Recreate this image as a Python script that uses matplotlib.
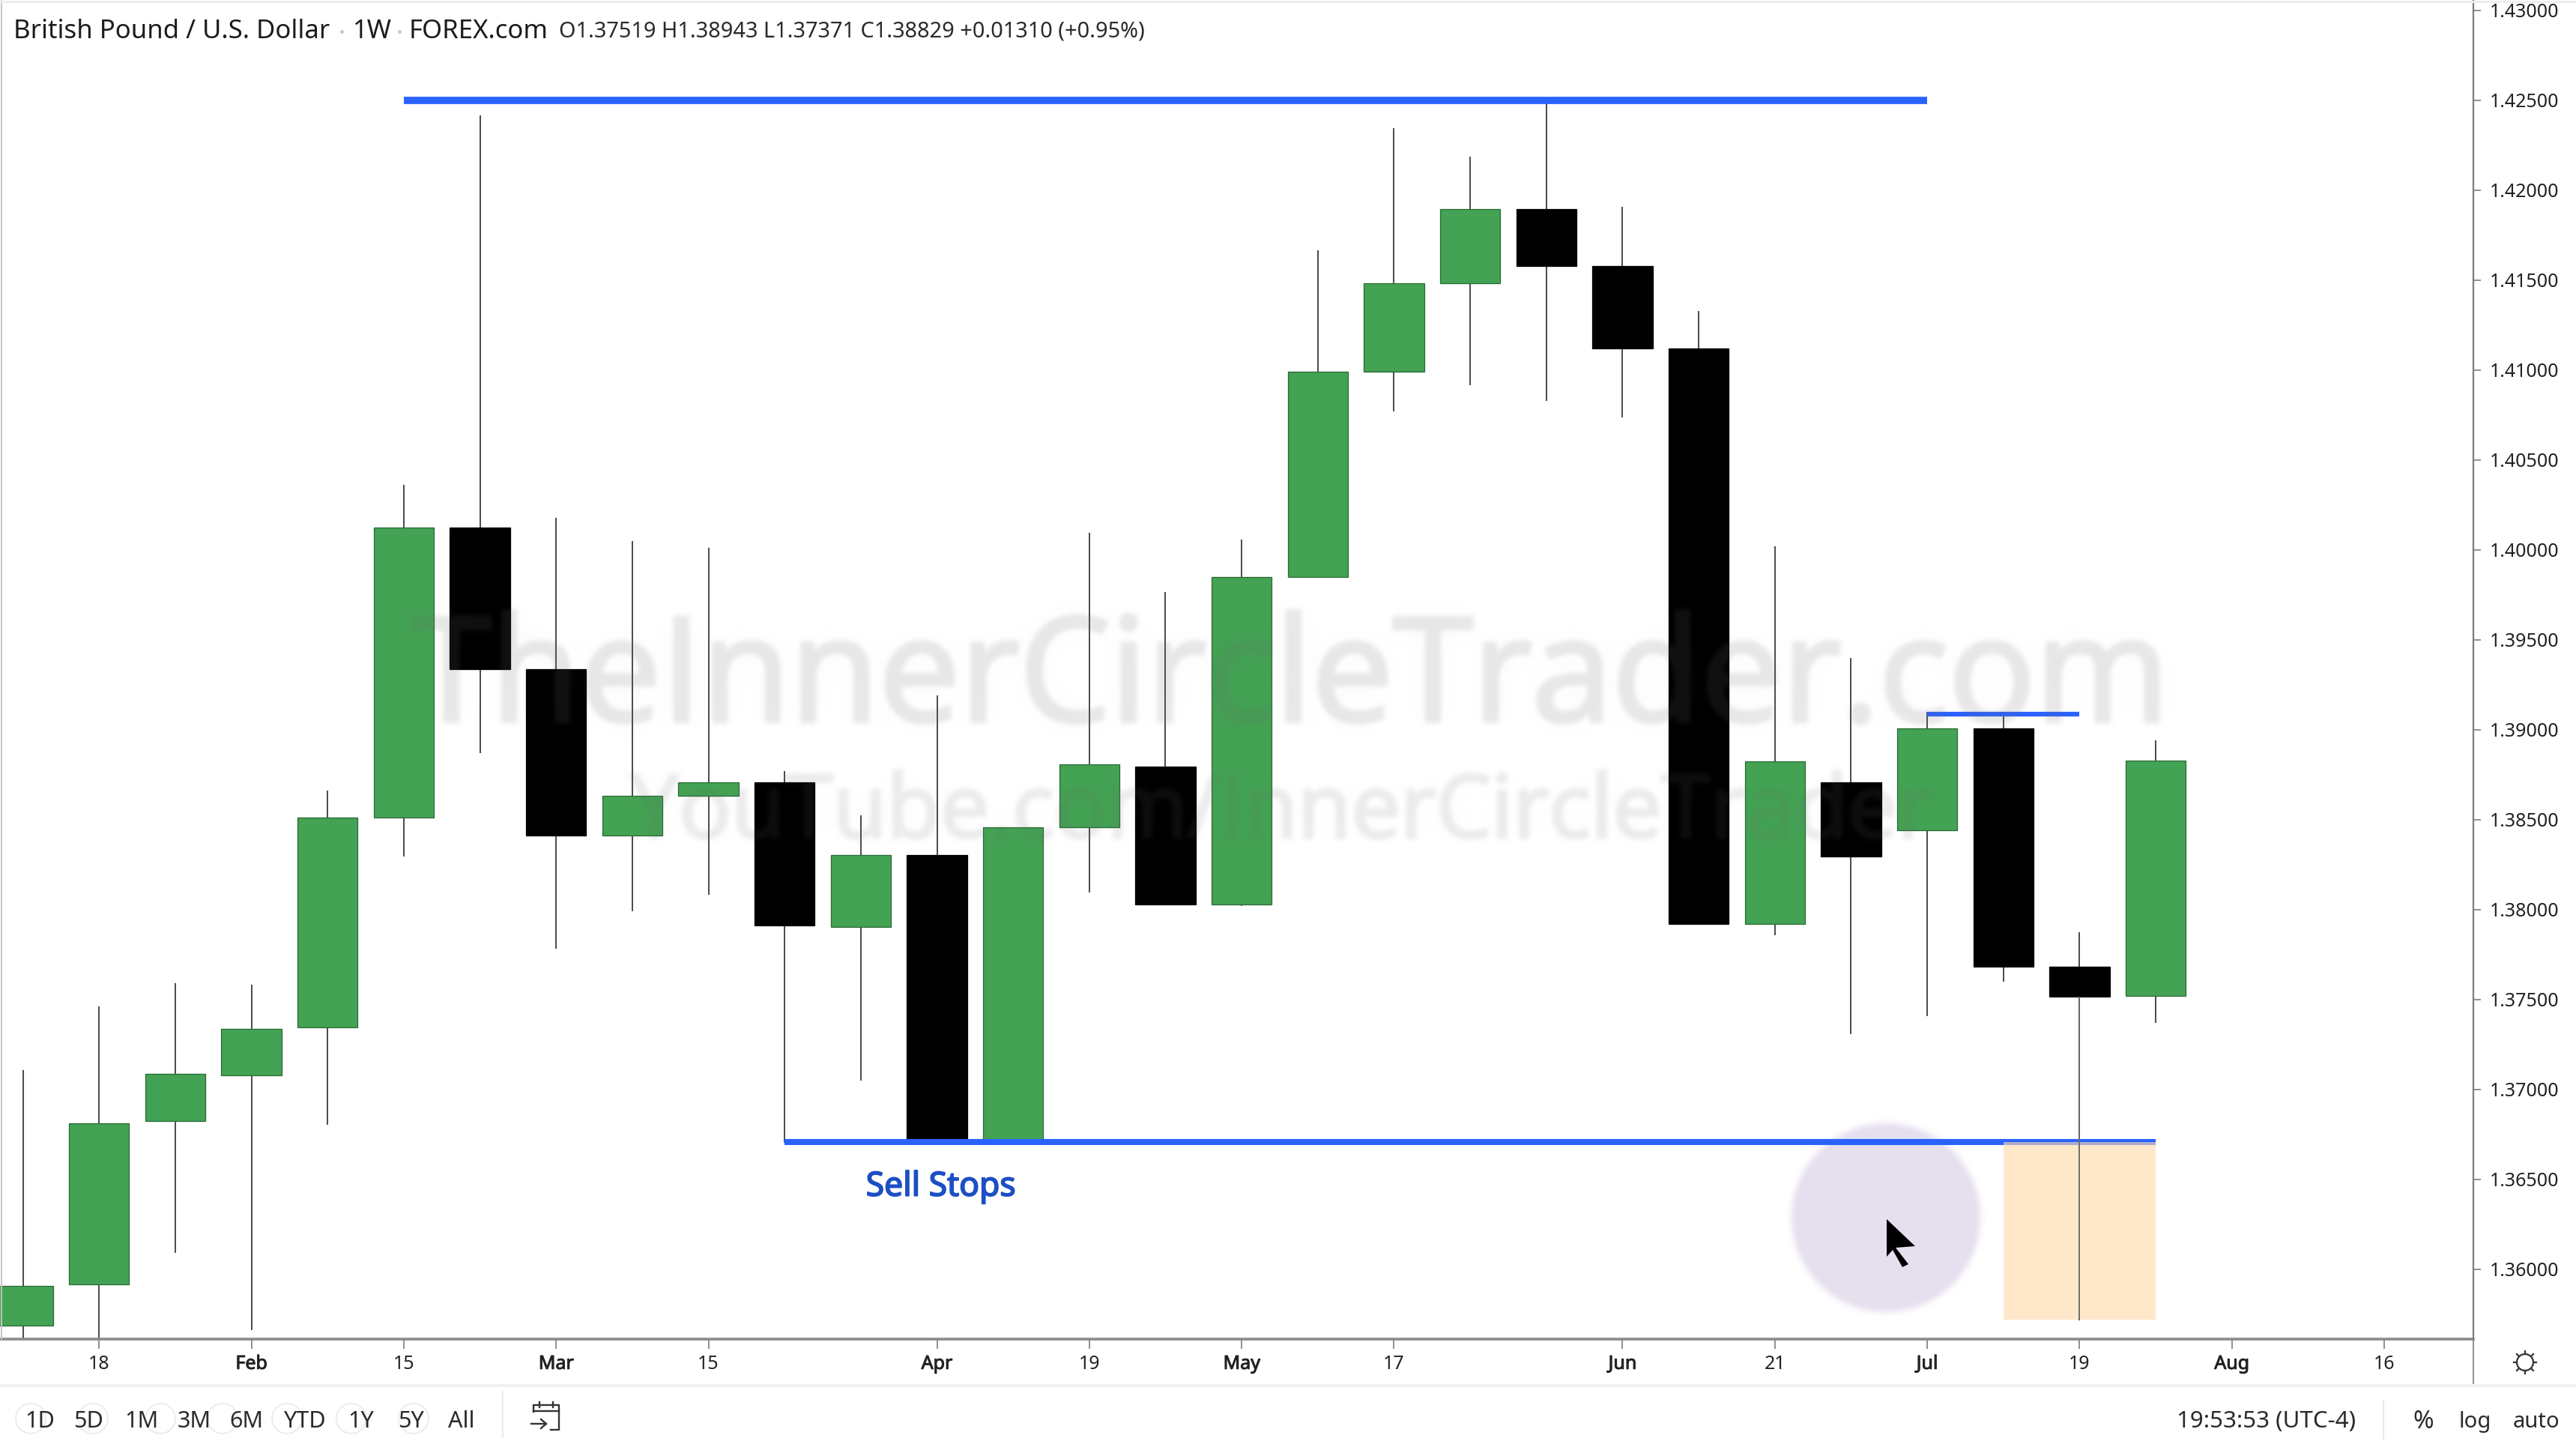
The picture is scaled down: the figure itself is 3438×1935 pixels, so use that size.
import matplotlib
matplotlib.use('Agg')
import matplotlib.pyplot as plt
from matplotlib.colors import to_rgb
from matplotlib.patches import Ellipse, Polygon, Rectangle
import matplotlib.patheffects as pe
import numpy as np

plt.rcParams['font.family'] = ['Noto Sans', 'DejaVu Sans']

# weekly candles
opens = [1.35689, 1.35918, 1.36823, 1.37079, 1.37344, 1.38514, 1.40123, 1.39337, 1.38413, 1.38633,
         1.38706, 1.37902, 1.38304, 1.36704, 1.38459, 1.38797, 1.38030, 1.39849, 1.40992, 1.41485,
         1.41897, 1.41577, 1.41120, 1.37920, 1.38706, 1.38441, 1.39008, 1.37682, 1.37519]
highs = [1.37106, 1.37463, 1.37591, 1.37582, 1.38660, 1.40361, 1.42418, 1.40178, 1.40050, 1.40013,
         1.38770, 1.38523, 1.39191, 1.38459, 1.40096, 1.39767, 1.40059, 1.41668, 1.42345, 1.42189,
         1.42500, 1.41906, 1.41330, 1.40022, 1.39401, 1.39099, 1.39081, 1.37874, 1.38943]
lows = [1.35500, 1.35500, 1.36091, 1.35662, 1.36805, 1.38295, 1.38871, 1.37783, 1.37993, 1.38084,
        1.36704, 1.37051, 1.36704, 1.36704, 1.38094, 1.38030, 1.38020, 1.39849, 1.40772, 1.40918,
        1.40827, 1.40736, 1.37920, 1.37856, 1.37307, 1.37408, 1.37600, 1.35717, 1.37371]
closes = [1.35909, 1.36814, 1.37088, 1.37335, 1.38514, 1.40123, 1.39337, 1.38413, 1.38633, 1.38706,
          1.37911, 1.38304, 1.36704, 1.38459, 1.38807, 1.38030, 1.39849, 1.40992, 1.41485, 1.41897,
          1.41577, 1.41120, 1.37920, 1.38825, 1.38295, 1.39008, 1.37682, 1.37518, 1.38829]

price_ticks = [1.36, 1.365, 1.37, 1.375, 1.38, 1.385, 1.39, 1.395, 1.40, 1.405, 1.41, 1.415, 1.42, 1.425, 1.43]
date_ticks = [1, 3, 5, 7, 9, 12, 14, 16, 18, 21, 23, 25, 27, 29, 31]
date_labels = ['18', 'Feb', '15', 'Mar', '15', 'Apr', '19', 'May', '17', 'Jun', '21', 'Jul', '19', 'Aug', '16']
months = ['Feb', 'Mar', 'Apr', 'May', 'Jun', 'Jul', 'Aug']
ranges = ['1D', '5D', '1M', '3M', '6M', 'YTD', '1Y', '5Y', 'All']

W, H = 3438, 1935
AX_RIGHT, AX_BOTTOM = 3301, 1787


def box_blur(a, r):
    # running mean along both image axes
    for axis in (0, 1):
        c = np.cumsum(a, axis=axis)
        c = np.insert(c, 0, 0, axis=axis)
        n = a.shape[axis]
        hi = np.clip(np.arange(n) + r + 1, 0, n)
        lo = np.clip(np.arange(n) - r, 0, n)
        a = (np.take(c, hi, axis=axis) - np.take(c, lo, axis=axis)) / (2 * r + 1)
    return a


def soft(color, radius, opacity, halo=0.0):
    # agg_filter: blur the rendered artist and fade it
    rgb = to_rgb(color)

    def f(img, dpi):
        pad = 40
        alpha = np.zeros((img.shape[0] + 2 * pad, img.shape[1] + 2 * pad))
        alpha[pad:-pad, pad:-pad] = img[:, :, 3]
        sharp = box_blur(box_blur(alpha, radius), radius)
        if halo:
            sharp = sharp * (1 - halo) + box_blur(alpha, 30) * halo
        res = np.zeros(alpha.shape + (4,))
        res[:, :, :3] = rgb
        res[:, :, 3] = sharp * opacity
        return res, -pad, -pad
    return f


fig = plt.figure(figsize=(W / 100, H / 100), dpi=100, facecolor='white')
ax = fig.add_axes([0, 1 - AX_BOTTOM / H, AX_RIGHT / W, AX_BOTTOM / H])
ax.set_xlim(-0.301, 32.17)
ax.set_ylim(1.35612, 1.43058)

# everything outside the data is placed in pixels
px = fig.add_axes([0, 0, 1, 1], zorder=10)
px.set_xlim(0, W)
px.set_ylim(H, 0)
px.axis('off')

green, black = '#43a253', '#000000'
for i in range(len(opens)):
    up = closes[i] >= opens[i]
    ax.vlines(i, lows[i], highs[i], color='#3c3c3c', lw=1.3, zorder=2)
    ax.bar(i, abs(closes[i] - opens[i]), bottom=min(opens[i], closes[i]), width=0.79,
           color=green if up else black, edgecolor='#2a6a37' if up else black, lw=0.9, zorder=3)

# cursor highlight, sits under the blue level
glow = Ellipse((2517, 1625), 252, 252, color='#e6dfee', lw=0, transform=px.transData, zorder=3.5)
glow.set_agg_filter(soft('#e6dfee', 4, 1.0))
ax.add_patch(glow)

# levels drawn on the chart
blue = '#2962ff'
ax.hlines(1.425, 5, 25, color=blue, lw=7, zorder=4)
ax.hlines(1.39085, 25, 27, color=blue, lw=4.5, zorder=4)
ax.hlines(1.36708, 10, 28, color=blue, lw=5.8, zorder=4)
ax.add_patch(Rectangle((26, 1.35721), 2, 1.36708 - 1.35721, color='#ffd9a8', alpha=0.62, lw=0, zorder=5))
ax.vlines(27, 1.35721, 1.37518, color='#6e6a66', lw=1.3, zorder=6)
ax.text(12.05, 1.36455, 'Sell Stops', color='#1c4fc4', fontsize=32, ha='center', va='center', zorder=6,
        path_effects=[pe.withStroke(linewidth=1.3, foreground='#1c4fc4')])

# axes
for s in ['top', 'left']:
    ax.spines[s].set_visible(False)
ax.spines['right'].set_color('#7d7d7d')
ax.spines['right'].set_linewidth(1.6)
ax.spines['bottom'].set_color('#8a8a8a')
ax.spines['bottom'].set_linewidth(2.6)
ax.yaxis.tick_right()
ax.set_yticks(price_ticks)
ax.set_yticklabels(['%.5f' % p for p in price_ticks])
ax.tick_params(axis='y', length=7, width=1.2, color='#7d7d7d', labelsize=18, labelcolor='#222222', pad=9)
ax.set_xticks(date_ticks)
ax.set_xticklabels(date_labels)
ax.tick_params(axis='x', length=9, width=1.2, color='#7d7d7d', labelsize=18, labelcolor='#222222', pad=6)
for t in ax.get_xticklabels():
    if t.get_text() in months:
        t.set_path_effects([pe.withStroke(linewidth=0.7, foreground='#222222')])

# watermark
for txt, xc, yc, size, r, op, sw in [('TheInnerCircleTrader.com', 1722, 912, 139, 3, 0.17, 4),
                                     ('YouTube.com/InnerCircleTrader', 1710, 1087, 84, 3, 0.14, 3)]:
    wm = px.text(xc, yc, txt, fontsize=size, color='#6a6a6a', ha='center', va='center', family='Open Sans',
                 path_effects=[pe.withStroke(linewidth=sw, foreground='#6a6a6a')])
    wm.set_agg_filter(soft('#6a6a6a', r, op, halo=0.12))

px.add_patch(Polygon([(2518, 1627), (2556, 1663), (2530, 1665), (2547, 1687), (2539, 1691), (2526, 1668), (2518, 1677)],
                     closed=True, color='black', lw=0))

# header
hc = '#1c1c1c'
px.text(18, 42, 'British Pound / U.S. Dollar', fontsize=25, color=hc, va='center')
px.text(471, 42, '1W', fontsize=25, color=hc, va='center')
px.text(546, 42, 'FOREX.com', fontsize=25, color=hc, va='center')
px.text(746, 42, 'O1.37519 H1.38943 L1.37371 C1.38829 +0.01310 (+0.95%)', fontsize=20.8, color='#2a2a2a', va='center')
px.plot([456, 533], [42, 42], ls='none', marker='o', ms=2.5, color='#c8c8c8')

# frame lines
px.plot([1.5, 1.5], [0, AX_BOTTOM], color='#c4c4c4', lw=1.4)
px.plot([0, W], [1.5, 1.5], color='#eeeeee', lw=2.2)
px.plot([AX_RIGHT, AX_RIGHT], [AX_BOTTOM, 1850], color='#7d7d7d', lw=1.2)
px.plot([0, W], [1849, 1849], color='#f1f1f1', lw=3)

# bottom toolbar
for x in [41, 124, 214, 297, 383, 469, 552]:
    px.add_patch(Ellipse((x, 1893), 40, 40, fill=False, ec='#ececec', lw=1.4))
for lab, x in zip(ranges, [53, 118, 189, 259, 329, 406, 482, 548, 616]):
    px.text(x, 1897, lab, fontsize=22, color='#2a2a2a', ha='center', va='center')
px.plot([671, 671], [1857, 1918], color='#e6e6e6', lw=1.2)
# calendar icon
px.plot([712, 712, 746, 746, 735], [1884, 1875, 1875, 1908, 1908], color='#333333', lw=1.7)
px.plot([712, 746], [1883, 1883], color='#333333', lw=1.7)
px.plot([720, 720], [1871, 1878], color='#333333', lw=1.7)
px.plot([738, 738], [1871, 1878], color='#333333', lw=1.7)
px.plot([709, 729], [1900, 1900], color='#333333', lw=1.7)
px.plot([722, 729, 722], [1894, 1900, 1906], color='#333333', lw=1.7)

px.text(3025, 1897, '19:53:53 (UTC-4)', fontsize=22.5, color='#2a2a2a', ha='center', va='center')
px.plot([3181, 3181], [1868, 1920], color='#e6e6e6', lw=1.2)
px.text(3234, 1897, '%', fontsize=24, color='#2a2a2a', ha='center', va='center')
px.text(3303, 1897, 'log', fontsize=21, color='#2a2a2a', ha='center', va='center')
px.text(3385, 1897, 'auto', fontsize=21, color='#2a2a2a', ha='center', va='center')

# settings gear
px.add_patch(Ellipse((3370, 1818), 22, 22, fill=False, ec='#333333', lw=1.6))
for dx, dy in [(0, -15), (0, 15), (-15, 0), (15, 0), (-11, -11), (11, -11), (-11, 11), (11, 11)]:
    px.plot([3370 + dx * 0.75, 3370 + dx], [1818 + dy * 0.75, 1818 + dy], color='#333333', lw=1.6)

fig.savefig('out.png', dpi=100)
